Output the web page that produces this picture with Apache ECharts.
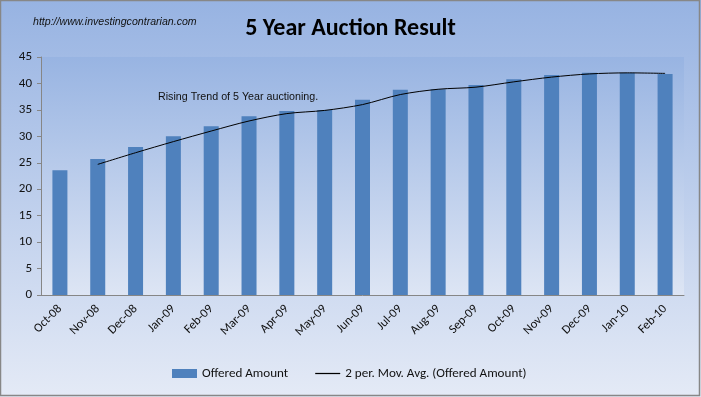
<!DOCTYPE html>
<html>
<head>
<meta charset="utf-8">
<script src="https://cdn.jsdelivr.net/npm/echarts@6/dist/echarts.min.js"></script>
<style>
  html, body { margin: 0; padding: 0; }
  #chart { width: 701px; height: 397px; }
</style>
</head>
<body>
<div id="chart"></div>
<script>
// months of the auctions
const months = ['Oct-08', 'Nov-08', 'Dec-08', 'Jan-09', 'Feb-09', 'Mar-09', 'Apr-09', 'May-09',
  'Jun-09', 'Jul-09', 'Aug-09', 'Sep-09', 'Oct-09', 'Nov-09', 'Dec-09', 'Jan-10', 'Feb-10'];
// offered amount (bars)
const offeredAmount = [23.6, 25.7, 28.0, 30.0, 31.9, 33.8, 34.8, 35.0,
  36.9, 38.8, 38.9, 39.7, 40.8, 41.6, 42.0, 42.0, 41.8];
// 2 period moving average
const movingAvg = [null, 24.7, 26.9, 29.0, 31.0, 32.9, 34.3, 34.9,
  36.0, 37.9, 38.9, 39.3, 40.3, 41.2, 41.8, 42.0, 41.9];
const yTicks = [0, 5, 10, 15, 20, 25, 30, 35, 40, 45];

const chart = echarts.init(document.getElementById('chart'), null, { renderer: 'canvas' });

const labelFont = 'Calibri, Carlito, "Open Sans", sans-serif';

const option = {
  animation: false,
  backgroundColor: new echarts.graphic.LinearGradient(0, 0, 0, 1, [
    { offset: 0, color: '#97b3e2' },
    { offset: 1, color: '#e4eaf6' }
  ]),
  graphic: [
    {
      type: 'rect',
      shape: { x: 0.5, y: 0.5, width: 699, height: 395 },
      style: { fill: 'none', stroke: '#878787', lineWidth: 1.5 },
      z: 100
    },
    {
      type: 'text',
      left: 33, top: 17,
      style: { text: 'http://www.investingcontrarian.com', font: 'italic 10.6px "Liberation Sans", Arial, sans-serif', fill: '#111' }
    },
    {
      type: 'text',
      left: 158, top: 92,
      style: { text: 'Rising Trend of 5 Year auctioning.', font: '10.7px "Liberation Sans", Arial, sans-serif', fill: '#111' },
      z: 10
    }
  ],
  title: {
    text: '5 Year Auction Result',
    left: 'center',
    top: 12,
    textStyle: { fontSize: 24, fontWeight: 'bold', color: '#000', fontFamily: labelFont }
  },
  legend: {
    bottom: 12,
    left: 167,
    itemGap: 27,
    itemWidth: 25,
    itemHeight: 9,
    textStyle: { fontSize: 13.1, color: '#111', fontFamily: labelFont },
    data: [
      { name: 'Offered Amount', icon: 'rect' },
      { name: '2 per. Mov. Avg. (Offered Amount)', icon: 'path://M0,0H20V1H0Z', itemStyle: { color: '#000' } }
    ]
  },
  grid: {
    left: 41,
    right: 17,
    top: 57,
    bottom: 102,
    show: true,
    borderWidth: 0,
    backgroundColor: new echarts.graphic.LinearGradient(0, 0, 0, 1, [
      { offset: 0, color: '#98b4e2' },
      { offset: 1, color: '#dde5f4' }
    ])
  },
  xAxis: {
    type: 'category',
    data: months,
    axisLine: { lineStyle: { color: '#868686' } },
    axisTick: { length: 5, lineStyle: { color: '#868686' } },
    axisLabel: { rotate: 45, color: '#111', fontSize: 12.5, fontFamily: labelFont, margin: 12 }
  },
  yAxis: {
    type: 'value',
    min: yTicks[0],
    max: yTicks[yTicks.length - 1],
    interval: 5,
    splitLine: { show: false },
    axisLine: { show: true, lineStyle: { color: '#868686' } },
    axisTick: { show: true, length: 4, lineStyle: { color: '#868686' } },
    axisLabel: { color: '#111', fontSize: 13, fontFamily: labelFont, margin: 9 }
  },
  series: [
    {
      name: 'Offered Amount',
      type: 'bar',
      data: offeredAmount,
      barWidth: 15,
      itemStyle: { color: '#4f81bd' }
    },
    {
      name: '2 per. Mov. Avg. (Offered Amount)',
      type: 'line',
      data: movingAvg,
      smooth: 0.3,
      symbol: 'none',
      lineStyle: { color: '#000', width: 1 },
      itemStyle: { color: '#000' },
      z: 5
    }
  ]
};

chart.setOption(option);
window.addEventListener('resize', () => chart.resize());
</script>
</body>
</html>
